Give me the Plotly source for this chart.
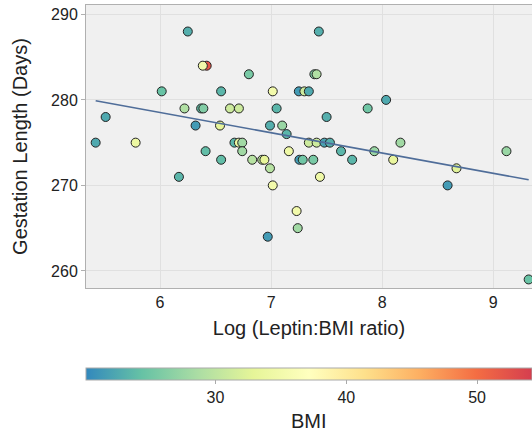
import numpy as np
import plotly.graph_objects as go

# Data
log_ratio = [6.42, 6.385, 6.015, 6.55, 5.51, 6.22, 6.37, 6.39, 6.63, 6.71,
             6.32, 6.54, 5.42, 5.78, 6.67, 6.71, 6.74, 6.41, 6.55, 6.17,
             6.80, 7.39, 7.41, 7.015, 7.25, 7.30, 7.34, 7.05, 7.50, 7.87,
             6.99, 7.10, 7.14, 7.34, 7.41, 7.48, 7.53, 6.74, 7.16, 7.63,
             7.93, 6.83, 6.92, 6.94, 7.255, 7.285, 7.38, 7.73, 6.99, 7.44,
             7.015, 8.036, 8.165, 8.10, 8.67, 8.59, 9.12, 9.32, 6.25, 7.43,
             7.23, 7.24, 6.97]
gestation = [284, 284, 281, 281, 278, 279, 279, 279, 279, 279,
             277, 277, 275, 275, 275, 275, 275, 274, 273, 271,
             283, 283, 283, 281, 281, 281, 281, 279, 278, 279,
             277, 277, 276, 275, 275, 275, 275, 274, 274, 274,
             274, 273, 273, 273, 273, 273, 273, 273, 272, 271,
             270, 280, 275, 273, 272, 270, 274, 259, 288, 288,
             267, 265, 264]
bmi = [52, 35, 24.5, 23.5, 22.5, 29, 24, 26, 31, 31,
       21.5, 33, 22.5, 34, 23.5, 34, 28, 24, 24, 23.5,
       25.5, 26, 29, 35, 21.5, 31, 22.5, 23.5, 23, 25,
       23, 27.5, 23.5, 31, 31, 22, 23, 28, 34.5, 23.5,
       27.5, 29.5, 30, 33, 21.5, 25, 25.5, 23.5, 29.5, 34.5,
       35, 22.5, 28, 33.5, 32.5, 21.5, 27.5, 24.5, 23, 23,
       35, 28, 21.5]

x_ticks = [6, 7, 8, 9]
y_ticks = [260, 270, 280, 290]
bmi_ticks = [30, 40, 50]

spectral_r = [[0, '#3288bd'], [0.125, '#66c2a5'], [0.25, '#abdda4'],
              [0.375, '#e6f598'], [0.5, '#ffffbf'], [0.625, '#fee08b'],
              [0.75, '#fdae61'], [0.875, '#f46d43'], [1, '#d53e4f']]

FONT = "Liberation Sans, Arial, sans-serif"

# least squares fit
slope, intercept = np.polyfit(log_ratio, gestation, 1)
fit_x = np.array([min(log_ratio), max(log_ratio)])
fit_y = slope * fit_x + intercept

fig = go.Figure()
fig.add_trace(go.Scatter(
    x=log_ratio, y=gestation, mode='markers',
    marker=dict(size=9, color=bmi, colorscale=spectral_r, cmin=20.1, cmax=54.2,
                line=dict(color='#222222', width=1),
                colorbar=dict(orientation='h', x=0, xanchor='left', xref='paper',
                              y=-0.283, yanchor='top', yref='paper',
                              lenmode='pixels', len=446, thickness=12,
                              xpad=0, ypad=0,
                              outlinecolor='#aaaaaa', outlinewidth=1,
                              tickvals=bmi_ticks, ticks='outside', ticklen=4,
                              tickcolor='#aaaaaa',
                              tickfont=dict(size=16, color='#222222', family=FONT))),
    showlegend=False))
fig.add_trace(go.Scatter(x=fit_x, y=fit_y, mode='lines',
                         line=dict(color='#4f6d99', width=1.6), showlegend=False))

fig.add_annotation(text='BMI', x=0.5, xref='paper', y=-0.47, yref='paper',
                   xanchor='center', yanchor='middle', showarrow=False,
                   font=dict(size=20, color='#222222', family=FONT))

fig.update_layout(
    width=532, height=433,
    margin=dict(l=86, r=0, t=5, b=145),
    paper_bgcolor='white', plot_bgcolor='#f0f0f0',
    font=dict(family=FONT, color='#222222'),
    xaxis=dict(range=[5.333, 9.35], tickvals=x_ticks, showgrid=True,
               gridcolor='#e0e0e0', gridwidth=1, zeroline=False,
               showline=True, linecolor='#b0b0b0', linewidth=1, mirror=True,
               ticks='', tickfont=dict(size=16, color='#222222'),
               title=dict(text='Log (Leptin:BMI ratio)', font=dict(size=20), standoff=10)),
    yaxis=dict(range=[258.0, 291.1], tickvals=y_ticks, showgrid=True,
               gridcolor='#e0e0e0', gridwidth=1, zeroline=False,
               showline=True, linecolor='#b0b0b0', linewidth=1, mirror=True,
               ticks='outside', ticklen=4, tickcolor='#b0b0b0',
               tickfont=dict(size=16, color='#222222'),
               title=dict(text='Gestation Length (Days)', font=dict(size=20), standoff=18)),
)

fig.write_html("out.html")
